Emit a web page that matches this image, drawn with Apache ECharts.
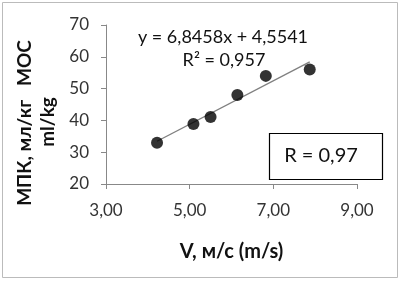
<!DOCTYPE html>
<html><head><meta charset="utf-8">
<script src="https://cdn.jsdelivr.net/npm/echarts@6/dist/echarts.min.js"></script>
<style>html,body{margin:0;padding:0;background:#fff}#c{width:401px;height:283px}</style>
</head><body><div id="c"></div>
<script>
const speed = [4.22, 5.09, 5.50, 6.14, 6.82, 7.87];
const vo2 = [33.0, 38.9, 41.1, 48.0, 54.0, 56.0];
const slope = 6.8458, intercept = 4.5541;
const equationText = 'y = 6,8458x + 4,5541';
const r2Text = 'R² = 0,957';
const rText = 'R = 0,97';
const xTicks = [3, 5, 7, 9];
const yTicks = [20, 30, 40, 50, 60, 70];
const xTitle = 'V, м/с (m/s)';
const yTitleLine1 = 'МПК, мл/кг   MOC';
const yTitleLine2 = 'ml/kg';

const pts = speed.map((v, i) => [v, vo2[i]]);
const xMin = Math.min(...speed), xMax = Math.max(...speed);
const trend = [[xMin, slope * xMin + intercept], [xMax, slope * xMax + intercept]];
const font = 'Lato, "Liberation Sans", sans-serif';

const chart = echarts.init(document.getElementById('c'), null, {renderer: 'canvas'});
chart.setOption({
  animation: false,
  backgroundColor: '#fff',
  grid: {left: 106, right: 44, top: 25, bottom: 99},
  xAxis: {
    type: 'value', min: xTicks[0], max: xTicks[xTicks.length - 1], interval: 2,
    name: xTitle, nameLocation: 'middle', nameGap: 58,
    nameTextStyle: {fontFamily: font, fontSize: 20, fontWeight: 'bold', color: '#111'},
    axisLine: {show: true, lineStyle: {color: '#888', width: 1}},
    axisTick: {show: true, length: 5, lineStyle: {color: '#888'}},
    axisLabel: {fontFamily: font, fontSize: 17, color: '#333', margin: 18,
      formatter: v => v.toFixed(2).replace('.', ',')},
    splitLine: {show: false}
  },
  yAxis: {
    type: 'value', min: yTicks[0], max: yTicks[yTicks.length - 1], interval: 10,
    axisLine: {show: true, lineStyle: {color: '#888', width: 1}},
    axisTick: {show: true, length: 5, lineStyle: {color: '#888'}},
    axisLabel: {fontFamily: font, fontSize: 17, color: '#333', margin: 17},
    splitLine: {show: false}
  },
  series: [
    {type: 'line', data: trend, symbol: 'none', lineStyle: {color: '#808080', width: 1.4}, z: 1},
    {type: 'scatter', data: pts, symbol: 'circle', symbolSize: 12, itemStyle: {color: '#000'}, z: 2}
  ],
  graphic: [
    {type: 'rect', shape: {x: 2.5, y: 2.5, width: 395, height: 275}, style: {fill: null, stroke: '#bbb', lineWidth: 1}, silent: true},
    {type: 'text', x: 25, y: 123, rotation: Math.PI / 2, style: {text: yTitleLine1, font: 'bold 19px ' + font, fill: '#111', textAlign: 'center', textVerticalAlign: 'middle'}},
    {type: 'text', x: 48, y: 122, rotation: Math.PI / 2, style: {text: yTitleLine2, font: 'bold 19px ' + font, fill: '#111', textAlign: 'center', textVerticalAlign: 'middle'}},
    {type: 'text', x: 223, y: 37, style: {text: equationText, font: '18px ' + font, fill: '#111', textAlign: 'center', textVerticalAlign: 'middle'}},
    {type: 'text', x: 224, y: 60, style: {text: r2Text, font: '18px ' + font, fill: '#111', textAlign: 'center', textVerticalAlign: 'middle'}},
    {type: 'rect', shape: {x: 269.5, y: 133.5, width: 113, height: 46}, style: {fill: '#fff', stroke: '#000', lineWidth: 1.2}, z: 10},
    {type: 'text', x: 321, y: 156, z: 11, style: {text: rText, font: '20px ' + font, fill: '#111', textAlign: 'center', textVerticalAlign: 'middle'}}
  ]
});
</script></body></html>
